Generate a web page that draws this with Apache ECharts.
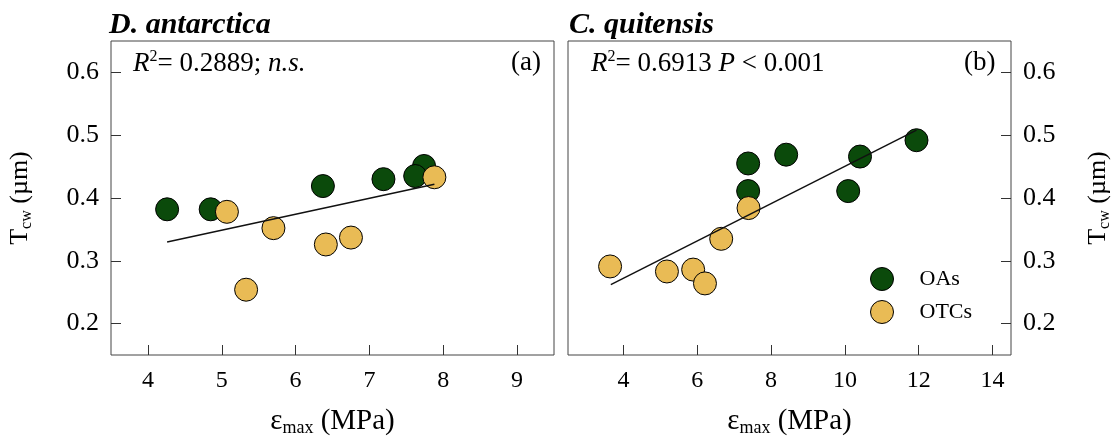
<!DOCTYPE html>
<html>
<head>
<meta charset="utf-8">
<script src="https://cdn.jsdelivr.net/npm/echarts@6.0.0/dist/echarts.min.js"></script>
<style>
html, body { margin: 0; padding: 0; background: #fff; }
#chart { width: 1113px; height: 440px; }
</style>
</head>
<body>
<div id="chart"></div>
<script>
// (a) D. antarctica
const aOAsX = [4.26, 4.85, 6.37, 7.19, 7.74, 7.62]
const aOAsY = [0.382, 0.382, 0.419, 0.430, 0.451, 0.435]
const aOTCsX = [5.07, 5.70, 5.33, 6.41, 6.75, 7.88]
const aOTCsY = [0.378, 0.352, 0.254, 0.326, 0.337, 0.433]
const aFitX = [4.26, 7.88]
const aFitY = [0.330, 0.422]

// (b) C. quitensis
const bOAsX = [7.38, 7.38, 8.41, 10.41, 10.09, 11.94]
const bOAsY = [0.455, 0.411, 0.469, 0.466, 0.411, 0.492]
const bOTCsX = [3.64, 5.18, 5.89, 6.21, 6.65, 7.39]
const bOTCsY = [0.291, 0.283, 0.286, 0.264, 0.335, 0.384]
const bFitX = [3.66, 11.94]
const bFitY = [0.262, 0.508]

// tick labels
const aTicksX = [4, 5, 6, 7, 8, 9]
const bTicksX = [4, 6, 8, 10, 12, 14]
const ticksY = [0.2, 0.3, 0.4, 0.5, 0.6]

const FONT = 'Liberation Serif'
const GREEN = '#0b4a0b'
const YELLOW = '#e9bb55'
const zip = (xs, ys) => xs.map((x, i) => [x, ys[i]])

const xNameRich = {
    n: { fontFamily: FONT, fontSize: 29, lineHeight: 32, color: '#000' },
    sub: { fontFamily: FONT, fontSize: 18, lineHeight: 16, verticalAlign: 'bottom', color: '#000' }
}
const yNameRich = {
    n: { fontFamily: FONT, fontSize: 26, lineHeight: 30, color: '#000' },
    sub: { fontFamily: FONT, fontSize: 16, lineHeight: 16, verticalAlign: 'bottom', color: '#000' }
}

function xAxisOf(grid, min, max, ticks) {
    return {
        type: 'value', gridIndex: grid, min: min, max: max,
        name: '{n|ε}{sub|max}{n| (MPa)}', nameLocation: 'middle', nameGap: 50,
        nameTextStyle: { rich: xNameRich },
        axisLine: { show: false },
        splitLine: { show: false },
        axisTick: { show: true, inside: true, length: 10, customValues: ticks, lineStyle: { color: '#333' } },
        axisLabel: { customValues: ticks, margin: 14, fontFamily: FONT, fontSize: 24, color: '#000' }
    }
}
function yAxisOf(grid, pos) {
    return {
        type: 'value', gridIndex: grid, min: 0.15, max: 0.65, position: pos,
        name: '{n|T}{sub|cw}{n| (µm)}', nameLocation: 'middle', nameRotate: 90,
        nameGap: pos === 'left' ? 76 : 72,
        nameTextStyle: { rich: yNameRich },
        axisLine: { show: false },
        splitLine: { show: false },
        axisTick: { show: true, inside: true, length: 10, customValues: ticksY, lineStyle: { color: '#333' } },
        axisLabel: {
            customValues: ticksY, margin: 12, fontFamily: FONT, fontSize: 26, color: '#000',
            formatter: v => v.toFixed(1)
        }
    }
}
function scatter(name, grid, data, color) {
    return {
        name: name, type: 'scatter', xAxisIndex: grid, yAxisIndex: grid,
        symbol: 'circle', symbolSize: 23, data: data,
        itemStyle: { color: color, borderColor: '#000', borderWidth: 1, opacity: 1 }
    }
}
function fit(grid, data) {
    return {
        type: 'line', xAxisIndex: grid, yAxisIndex: grid, data: data, z: 5,
        symbol: 'none', silent: true,
        lineStyle: { color: '#111', width: 1.5 }
    }
}
function note(left, top, text, rich) {
    return { type: 'text', left: left, top: top, style: { text: text, rich: rich } }
}

const noteRich = {
    i: { fontFamily: FONT, fontStyle: 'italic', fontSize: 27, lineHeight: 30, fill: '#000' },
    n: { fontFamily: FONT, fontSize: 27, lineHeight: 30, fill: '#000' },
    sup: { fontFamily: FONT, fontSize: 16, lineHeight: 16, verticalAlign: 'top', fill: '#000' }
}
const titleStyle = { fontFamily: FONT, fontStyle: 'italic', fontWeight: 'bold', fontSize: 30, color: '#000' }

const chart = echarts.init(document.getElementById('chart'))
chart.setOption({
    backgroundColor: '#fff',
    animation: false,
    grid: [
        { left: 111, top: 41, width: 443, height: 314, show: true, borderColor: '#444', borderWidth: 1, outerBoundsMode: 'none' },
        { left: 568, top: 41, width: 443, height: 314, show: true, borderColor: '#444', borderWidth: 1, outerBoundsMode: 'none' }
    ],
    title: [
        { text: 'D. antarctica', left: 109, top: 10, padding: 0, textStyle: titleStyle },
        { text: 'C. quitensis', left: 569, top: 10, padding: 0, textStyle: titleStyle }
    ],
    legend: {
        data: ['OAs', 'OTCs'], orient: 'vertical', left: 870, top: 267, padding: 0,
        itemWidth: 23, itemHeight: 23, itemGap: 9,
        itemStyle: { borderWidth: 1, borderColor: '#000' },
        textStyle: { fontFamily: FONT, fontSize: 22, color: '#000', padding: [0, 0, 0, 21] }
    },
    xAxis: [xAxisOf(0, 3.5, 9.5, aTicksX), xAxisOf(1, 2.5, 14.5, bTicksX)],
    yAxis: [yAxisOf(0, 'left'), yAxisOf(1, 'right')],
    series: [
        scatter('OAs', 0, zip(aOAsX, aOAsY), GREEN),
        scatter('OTCs', 0, zip(aOTCsX, aOTCsY), YELLOW),
        fit(0, zip(aFitX, aFitY)),
        scatter('OAs', 1, zip(bOAsX, bOAsY), GREEN),
        scatter('OTCs', 1, zip(bOTCsX, bOTCsY), YELLOW),
        fit(1, zip(bFitX, bFitY))
    ],
    graphic: [
        note(133, 49, '{i|R}{sup|2}{n|= 0.2889; }{i|n.s.}', noteRich),
        note(511, 49, '{n|(a)}', noteRich),
        note(591, 49, '{i|R}{sup|2}{n|= 0.6913 }{i|P}{n| < 0.001}', noteRich),
        note(964, 49, '{n|(b)}', noteRich)
    ]
})
</script>
</body>
</html>
